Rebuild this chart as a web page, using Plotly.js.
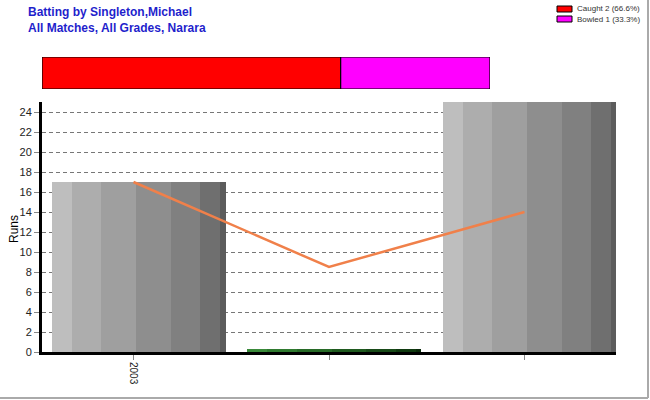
<!DOCTYPE html>
<html>
<head>
<meta charset="utf-8">
<script src="https://cdn.plot.ly/plotly-3.0.1.min.js"></script>
<style>html,body{margin:0;padding:0;background:#fff}#chart{width:650px;height:400px}</style>
</head>
<body>
<div id="chart"></div>
<script>
// ---- data ----
var seasons = ['2003', '', ''];
var matchIdx = [0, 1, 2];
var barHeights = [17, 0.3, 25];          // runs per innings (0 shown as a thin green bar)
var runningAvg = [17, 8.5, 14];
var dismissalLabels = ['Caught 2 (66.6%)', 'Bowled 1 (33.3%)'];
var dismissalCounts = [2, 1];
var dismissalColors = ['#ff0000', '#ff00ff'];
var yTitle = 'Runs';

// ---- styling (stripes give the shaded look of each bar) ----
var stripeFracs = [0.115, 0.167, 0.201, 0.201, 0.167, 0.115, 0.034];
var greyShades = ['#bebebe', '#adadad', '#9f9f9f', '#8e8e8e', '#808080', '#6f6f6f', '#5c5c5c'];
var greenShades = ['#3a8a3a', '#2f7a2f', '#276a27', '#1f5a1f', '#184a18', '#103a10', '#0a2a0a'];
var barStart = -0.417, barWidth = 0.89;

var M = {l: 42, r: 34, t: 57, b: 48};
var plotW = 650 - M.l - M.r, plotH = 400 - M.t - M.b;
function px(x) { return (x - M.l) / plotW; }
function py(y) { return 1 - (y - M.t) / plotH; }

var traces = [];
var cum = 0;
for (var s = 0; s < stripeFracs.length; s++) {
  var cols = barHeights.map(function (h, i) { return i === 1 ? greenShades[s] : greyShades[s]; });
  traces.push({
    type: 'bar', x: matchIdx, y: barHeights,
    offset: barStart + cum * barWidth, width: stripeFracs[s] * barWidth,
    marker: {color: cols, line: {width: 0}},
    xaxis: 'x', yaxis: 'y', showlegend: false, hoverinfo: 'skip'
  });
  cum += stripeFracs[s];
}
traces.push({
  type: 'scatter', mode: 'lines', x: matchIdx, y: runningAvg,
  line: {color: '#f0804a', width: 2.5}, xaxis: 'x', yaxis: 'y', showlegend: false
});
var base = 0;
for (var d = 0; d < dismissalCounts.length; d++) {
  traces.push({
    type: 'bar', orientation: 'h', y: [0], x: [dismissalCounts[d]], base: [base],
    width: 1, name: dismissalLabels[d], showlegend: false,
    marker: {color: dismissalColors[d], line: {color: '#000', width: 1.2}},
    xaxis: 'x2', yaxis: 'y2'
  });
  base += dismissalCounts[d];
}

// legend drawn as small boxes + text
var shapes = [
  {type: 'line', xref: 'paper', yref: 'paper', x0: px(648), x1: px(648), y0: py(398), y1: py(0), line: {color: '#aaa', width: 2}},
  {type: 'line', xref: 'paper', yref: 'paper', x0: px(0), x1: px(648), y0: py(398), y1: py(398), line: {color: '#aaa', width: 2}}
];
var annotations = [{
  text: '<b>Batting by Singleton,Michael<br>All Matches, All Grades, Narara</b>',
  xref: 'paper', yref: 'paper', x: px(26), y: py(3), xanchor: 'left', yanchor: 'top',
  align: 'left', showarrow: false, font: {size: 12, color: '#1f1fcc'}
}, {
  text: yTitle, xref: 'paper', yref: 'paper', x: px(14), y: py(229), textangle: -90,
  xanchor: 'center', yanchor: 'middle', showarrow: false, font: {size: 12, color: '#000'}
}];
for (var k = 0; k < dismissalLabels.length; k++) {
  var cy = 9 + k * 10;
  shapes.push({type: 'rect', xref: 'paper', yref: 'paper', x0: px(557), x1: px(572), y0: py(cy - 3), y1: py(cy + 3),
    fillcolor: dismissalColors[k], line: {color: '#000', width: 1}});
  annotations.push({text: dismissalLabels[k], xref: 'paper', yref: 'paper', x: px(575), y: py(cy),
    xanchor: 'left', yanchor: 'middle', showarrow: false, font: {size: 8, color: '#333'}});
}

var layout = {
  width: 650, height: 400,
  margin: {l: M.l, r: M.r, t: M.t, b: M.b, pad: 0, autoexpand: false},
  paper_bgcolor: '#fff', plot_bgcolor: '#fff',
  font: {family: '"Liberation Sans", Arial, sans-serif', color: '#000'},
  barmode: 'overlay', bargap: 0, showlegend: false,
  xaxis: {
    domain: [0, 1], range: [-0.468, 2.468],
    tickmode: 'array', tickvals: matchIdx, ticktext: seasons,
    tickangle: 90, tickfont: {size: 10, color: '#222'},
    ticks: 'outside', ticklen: 5, tickcolor: '#888',
    showgrid: false, zeroline: false,
    showline: true, linecolor: '#000', linewidth: 3, anchor: 'y'
  },
  yaxis: {
    domain: [0, 250 / plotH], range: [0, 25], dtick: 2,
    tickfont: {size: 11, color: '#222'},
    ticks: 'outside', ticklen: 5, tickcolor: '#888',
    showgrid: true, gridcolor: '#777', griddash: '4px,3px', gridwidth: 1,
    zeroline: false, showline: true, linecolor: '#000', linewidth: 3, anchor: 'x'
  },
  xaxis2: {domain: [0, px(490)], range: [0, 3], visible: false, anchor: 'y2', fixedrange: true},
  yaxis2: {domain: [py(89), 1], range: [-0.5, 0.5], visible: false, anchor: 'x2', fixedrange: true},
  shapes: shapes,
  annotations: annotations
};
Plotly.newPlot('chart', traces, layout, {staticPlot: true, displayModeBar: false});
</script>
</body>
</html>
